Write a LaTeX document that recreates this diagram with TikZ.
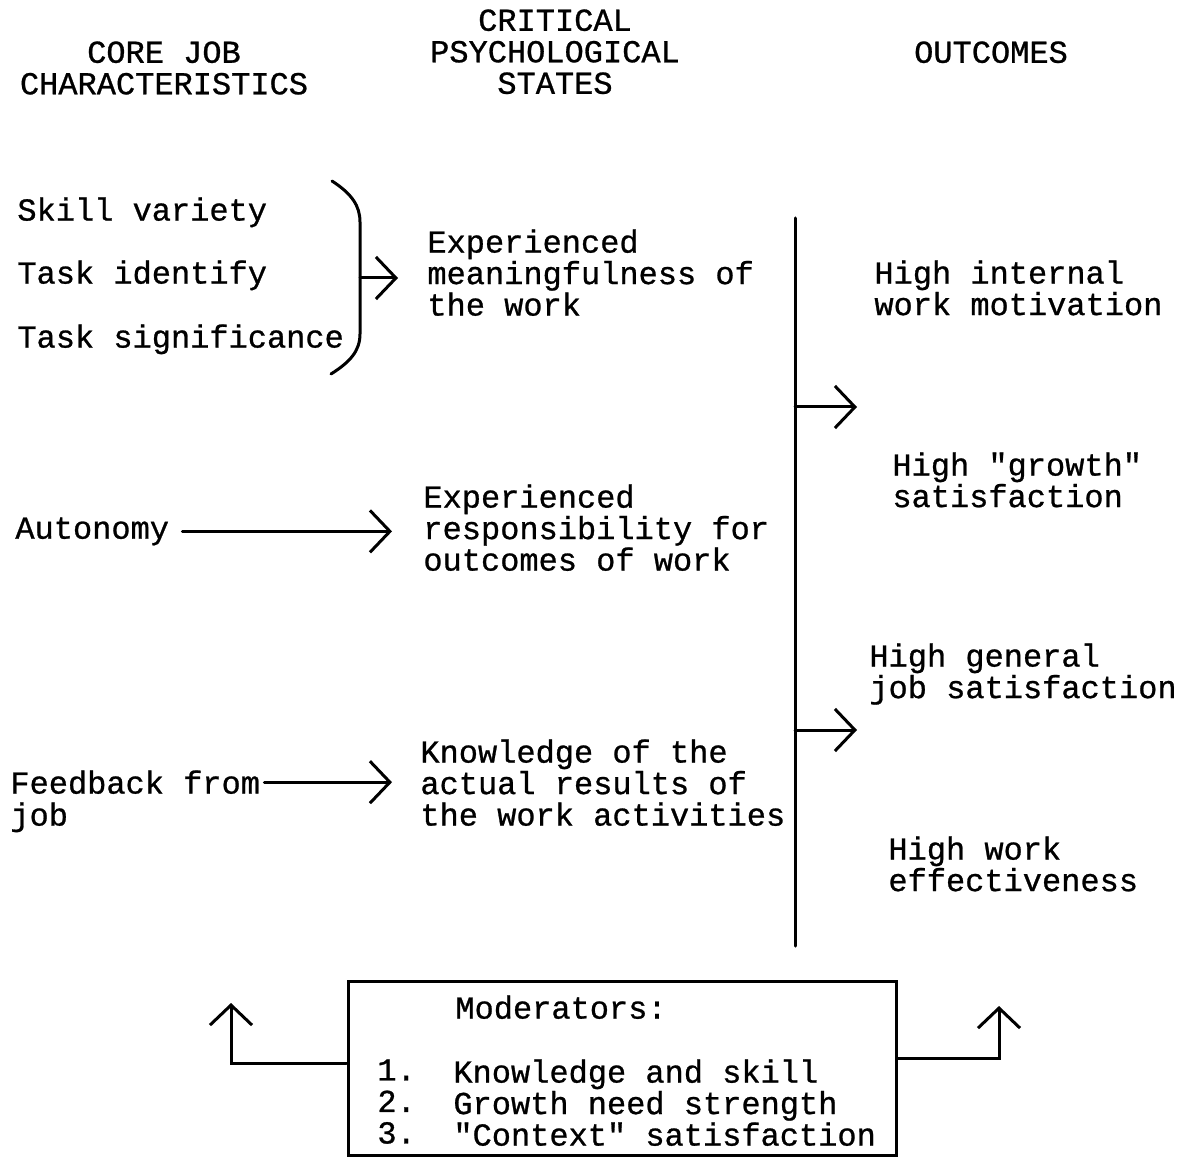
\documentclass[tikz,border=0pt]{standalone}
\usepackage{fontspec}
\newfontfamily\twfont[FakeBold=0.8]{Liberation Mono}
\usetikzlibrary{arrows.meta,positioning,calc}

\begin{document}
\begin{tikzpicture}[x=0.5pt, y=-0.5pt,
  txt/.style={font=\twfont\fontsize{16}{15.75}\selectfont, inner sep=0pt,
              align=left, anchor=north west},
  head/.style={txt, align=center, anchor=north},
  ln/.style={line width=1.5pt, line cap=round},
  arr/.style={ln, -{Straight Barb[length=10pt,width=21pt]}}
]
\useasboundingbox (0,0) rectangle (1181,1159);

% column headings
\node[head] (core) at (164,41) {CORE JOB\\CHARACTERISTICS};
\node[head] (crit) at (555,9) {CRITICAL\\PSYCHOLOGICAL\\STATES};
\node[head] (outc) at (991,41) {OUTCOMES};

% core job characteristics
\node[txt] (skill) at (17,197) {Skill variety};
\node[txt] (taskid) at (17,260) {Task identify};
\node[txt] (tasksig) at (17,324) {Task significance};
\node[txt] (auto) at (15,517) {Autonomy};
\node[txt] (fb) at (10,770) {Feedback from};
\node[txt] (fbjob) at (10,802) {job};

% psychological states
\node[txt] (mean) at (427,229) {Experienced\\meaningfulness of\\the work};
\node[txt] (resp) at (423,484) {Experienced\\responsibility for\\outcomes of work};
\node[txt] (know) at (420,739) {Knowledge of the\\actual results of\\the work activities};

% outcomes
\node[txt] (out1) at (874,260) {High internal\\work motivation};
\node[txt] (out2) at (892,452) {High "growth"\\satisfaction};
\node[txt] (out3) at (869,643) {High general\\job satisfaction};
\node[txt] (out4) at (888,836) {High work\\effectiveness};

% brace round the first three
\coordinate (bmid) at (360,278);
\draw[ln] (332,181) .. controls (352,194) and (360,206) .. (360,222) -- (360,334)
  .. controls (360,351) and (350,362) .. (331,374);
\draw[arr, shorten >=14.5pt] (bmid) -- (bmid -| mean.west);
\draw[arr, shorten <=6.5pt, shorten >=15.5pt] (auto.east) -- (auto.east -| resp.west);
\draw[arr, shorten <=2pt, shorten >=14pt] (fb.east) -- (fb.east -| know.west);

% divider and outcome arrows
\coordinate (vtop) at (795,218);
\coordinate (vbot) at (795,946);
\draw[ln] (vtop) -- (vbot);
\coordinate (o1s) at (795,407);
\coordinate (o1e) at (857,407);
\coordinate (o2s) at (795,730);
\coordinate (o2e) at (857,730);
\draw[arr] (o1s) -- (o1e);
\draw[arr] (o2s) -- (o2e);

% moderators
\node[draw, line width=1.5pt, minimum width=274pt, minimum height=87pt,
      inner sep=0pt] (mod) at (622,1068) {};
\node[txt] (modhead) at (455,995) {Moderators:};
\node[txt] (modnum) at (377,1059) {1.\\2.\\3.};
\node[txt] (moditems) at (453,1059) {Knowledge and skill\\Growth need strength\\"Context" satisfaction};
\coordinate (fbl) at (231,1003);
\coordinate (fbr) at (999,1006);
\draw[arr] ([yshift=2.5pt]mod.west) -| (fbl);
\draw[arr] ([yshift=5pt]mod.east) -| (fbr);
\end{tikzpicture}
\end{document}
